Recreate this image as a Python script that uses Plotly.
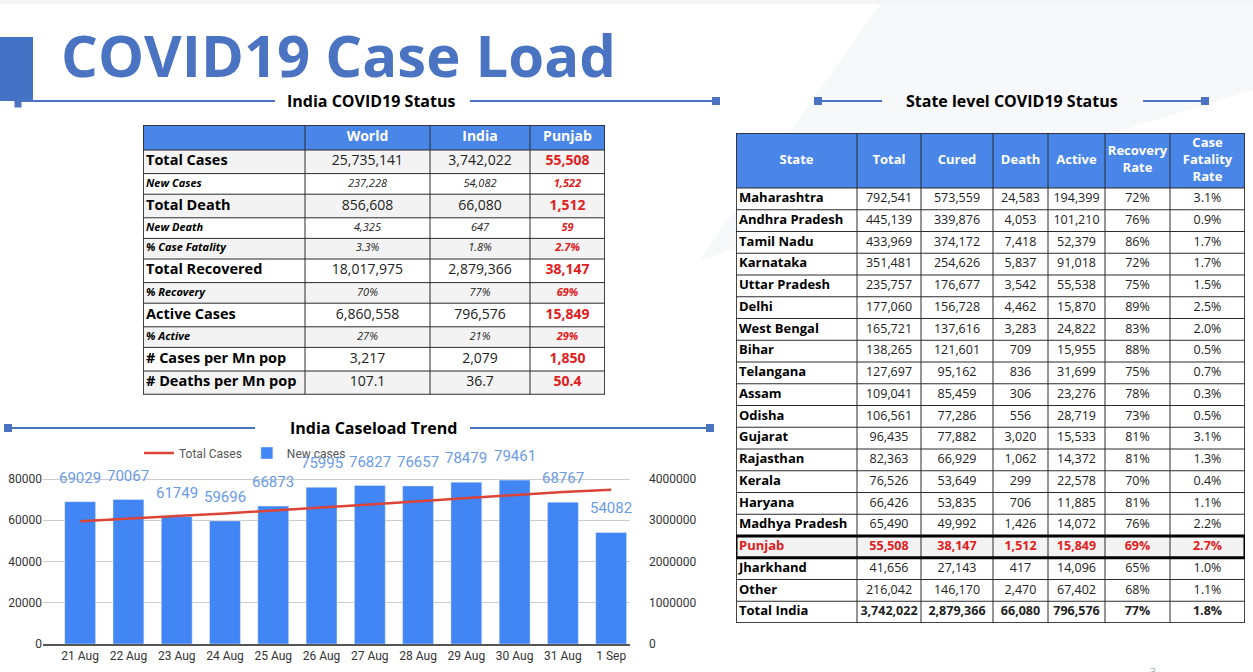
import plotly.graph_objects as go

W, H = 1253, 672


def px(x):
    return x / W


def py(y):
    return 1 - y / H


BLUE_HEAD = "#4a86e8"
TITLE_BLUE = "#4a73c2"
RED = "#e02020"
GRID = "#2b2b2b"

# ---- India / World / Punjab summary ----
metrics = ["Total Cases", "New Cases", "Total Death", "New Death", "% Case Fatality",
           "Total Recovered", "% Recovery", "Active Cases", "% Active",
           "# Cases per Mn pop", "# Deaths per Mn pop"]
minor_rows = [1, 3, 4, 6, 8]
world = [25735141, 237228, 856608, 4325, 3.3, 18017975, 70, 6860558, 27, 3217, 107.1]
india = [3742022, 54082, 66080, 647, 1.8, 2879366, 77, 796576, 21, 2079, 36.7]
punjab = [55508, 1522, 1512, 59, 2.7, 38147, 69, 15849, 29, 1850, 50.4]
row_fmt = ["{:,}", "{:,}", "{:,}", "{:,}", "{:.1f}%", "{:,}", "{:.0f}%", "{:,}", "{:.0f}%", "{:,}", "{:.1f}"]

# ---- state level table ----
states = ["Maharashtra", "Andhra Pradesh", "Tamil Nadu", "Karnataka", "Uttar Pradesh", "Delhi",
          "West Bengal", "Bihar", "Telangana", "Assam", "Odisha", "Gujarat", "Rajasthan", "Kerala",
          "Haryana", "Madhya Pradesh", "Punjab", "Jharkhand", "Other", "Total India"]
st_total = [792541, 445139, 433969, 351481, 235757, 177060, 165721, 138265, 127697, 109041, 106561,
            96435, 82363, 76526, 66426, 65490, 55508, 41656, 216042, 3742022]
st_cured = [573559, 339876, 374172, 254626, 176677, 156728, 137616, 121601, 95162, 85459, 77286,
            77882, 66929, 53649, 53835, 49992, 38147, 27143, 146170, 2879366]
st_death = [24583, 4053, 7418, 5837, 3542, 4462, 3283, 709, 836, 306, 556,
            3020, 1062, 299, 706, 1426, 1512, 417, 2470, 66080]
st_active = [194399, 101210, 52379, 91018, 55538, 15870, 24822, 15955, 31699, 23276, 28719,
             15533, 14372, 22578, 11885, 14072, 15849, 14096, 67402, 796576]
st_recovery = [72, 76, 86, 72, 75, 89, 83, 88, 75, 78, 73, 81, 81, 70, 81, 76, 69, 65, 68, 77]
st_cfr = [3.1, 0.9, 1.7, 1.7, 1.5, 2.5, 2.0, 0.5, 0.7, 0.3, 0.5, 3.1, 1.3, 0.4, 1.1, 2.2, 2.7, 1.0, 1.1, 1.8]

# ---- trend chart ----
dates = ["21 Aug", "22 Aug", "23 Aug", "24 Aug", "25 Aug", "26 Aug", "27 Aug", "28 Aug",
         "29 Aug", "30 Aug", "31 Aug", "1 Sep"]
new_cases = [69029, 70067, 61749, 59696, 66873, 75995, 76827, 76657, 78479, 79461, 68767, 54082]
total_cases = [2973369, 3043436, 3105185, 3164881, 3231754, 3307749, 3384576, 3461233,
               3539712, 3619173, 3687940, 3742022]

fig = go.Figure()
shapes = []

# faint slide background band
shapes.append(dict(type="path", xref="paper", yref="paper", layer="below", line_width=0,
                   fillcolor="#f7f8fa",
                   path=f"M {px(883)},{py(0)} L {px(1253)},{py(0)} L {px(1253)},{py(90)} "
                        f"L {px(700)},{py(260)} Z"))
shapes.append(dict(type="rect", xref="paper", yref="paper", layer="below", line_width=0,
                   fillcolor="#f4f5f7", x0=0, x1=1, y0=py(4), y1=1))


def table(ax, col_w, row_h, grid, fills, outer=1.5):
    """grid: rows of (text, size, color, align) ; drawn on axis pair ax (e.g. '3')"""
    xr, yr = "x" + ax, "y" + ax
    cx = [sum(col_w[:i]) for i in range(len(col_w) + 1)]
    ry = [sum(row_h[:i]) for i in range(len(row_h) + 1)]
    xs, ys, ts, sz, cl, pos = [], [], [], [], [], []
    for r, row in enumerate(grid):
        shapes.append(dict(type="rect", xref=xr, yref=yr, x0=cx[0], x1=cx[-1], y0=ry[r], y1=ry[r + 1],
                           fillcolor=fills[r], line_width=0, layer="below"))
        for c, (t, s, col, al) in enumerate(row):
            if al == "left":
                xs.append(cx[c] + 3)
                pos.append("middle right")
            else:
                xs.append((cx[c] + cx[c + 1]) / 2)
                pos.append("middle center")
            ys.append((ry[r] + ry[r + 1]) / 2)
            ts.append(t)
            sz.append(s)
            cl.append(col)
    for y in ry:
        shapes.append(dict(type="line", xref=xr, yref=yr, x0=cx[0], x1=cx[-1], y0=y, y1=y,
                           line=dict(color=GRID, width=1)))
    for x in cx:
        shapes.append(dict(type="line", xref=xr, yref=yr, x0=x, x1=x, y0=ry[0], y1=ry[-1],
                           line=dict(color=GRID, width=1)))
    shapes.append(dict(type="rect", xref=xr, yref=yr, x0=cx[0], x1=cx[-1], y0=ry[0], y1=ry[-1],
                       line=dict(color=GRID, width=outer)))
    fig.add_trace(go.Scatter(x=xs, y=ys, text=ts, mode="text", textposition=pos, xaxis=xr, yaxis=yr,
                             textfont=dict(family="Open Sans", size=sz, color=cl),
                             hoverinfo="skip", showlegend=False))
    return cx[-1], ry[-1]


# left table
L_LEFT, L_TOP = 143, 125
l_cols = [162, 125, 100, 75]
grid = [[("", 14, "white", "center")] + [(f"<b>{h}</b>", 14, "white", "center")
                                         for h in ("World", "India", "Punjab")]]
l_rows = [25]
for r, m in enumerate(metrics):
    vals = [row_fmt[r].format(v) for v in (world[r], india[r], punjab[r])]
    if r in minor_rows:
        grid.append([(f"<b><i>{m}</i></b>", 11, "black", "left"),
                     (f"<i>{vals[0]}</i>", 11, "#222", "center"),
                     (f"<i>{vals[1]}</i>", 11, "#222", "center"),
                     (f"<b><i>{vals[2]}</i></b>", 11, RED, "center")])
        l_rows.append(20.6)
    else:
        grid.append([(f"<b>{m}</b>", 14.5, "black", "left"),
                     (vals[0], 14, "#222", "center"),
                     (vals[1], 14, "#222", "center"),
                     (f"<b>{vals[2]}</b>", 14, RED, "center")])
        l_rows.append(23.6)
l_fill = [BLUE_HEAD] + ["#f3f3f3" if r % 2 == 0 else "white" for r in range(len(metrics))]
lw, lh = table("3", l_cols, l_rows, grid, l_fill)

# right table
R_LEFT, R_TOP = 736, 133
r_cols = [121, 64, 72, 55, 57, 65, 75]
pj = states.index("Punjab")
tot = states.index("Total India")
heads = ["State", "Total", "Cured", "Death", "Active", "Recovery<br>Rate", "Case<br>Fatality<br>Rate"]
grid = [[(f"<b>{h}</b>", 13, "white", "center") for h in heads]]
r_rows = [55]
for r, s in enumerate(states):
    cells = [f"{st_total[r]:,}", f"{st_cured[r]:,}", f"{st_death[r]:,}", f"{st_active[r]:,}",
             f"{st_recovery[r]}%", f"{st_cfr[r]:.1f}%"]
    col = RED if r == pj else "#222"
    if r in (pj, tot):
        cells = [f"<b>{c}</b>" for c in cells]
    grid.append([(f"<b>{s}</b>", 13, RED if r == pj else "black", "left")] +
                [(c, 12.5, col, "center") for c in cells])
    r_rows.append(21.75)
r_fill = [BLUE_HEAD] + ["#f3f3f3" if r == pj else "white" for r in range(len(states))]
rw, rh = table("4", r_cols, r_rows, grid, r_fill)
# Punjab row highlight
shapes.append(dict(type="rect", xref="x4", yref="y4", x0=0, x1=rw,
                   y0=sum(r_rows[:pj + 1]), y1=sum(r_rows[:pj + 2]),
                   line=dict(color="black", width=3)))

# trend chart
fig.add_trace(go.Scatter(x=dates, y=total_cases, name="Total Cases", mode="lines",
                         line=dict(color="#db4437", width=2.5), yaxis="y2"))
fig.add_trace(go.Bar(x=dates, y=new_cases, name="New cases", marker_color="#4285f4"))

for d, v in zip(dates, new_cases):
    fig.add_annotation(x=d, y=v, xref="x", yref="y", text=str(v), showarrow=False,
                       yshift=24, font=dict(family="Roboto", size=15, color="#6a9be6"))


def hline(x0, x1, y):
    shapes.append(dict(type="line", xref="paper", yref="paper", x0=px(x0), x1=px(x1),
                       y0=py(y), y1=py(y), line=dict(color="#4a73c2", width=2)))


def square(x, y, s=8):
    shapes.append(dict(type="rect", xref="paper", yref="paper", x0=px(x - s / 2), x1=px(x + s / 2),
                       y0=py(y + s / 2), y1=py(y - s / 2), fillcolor="#4a73c2", line_width=0))


# title block
shapes.append(dict(type="rect", xref="paper", yref="paper", x0=0, x1=px(33), y0=py(101), y1=py(37),
                   fillcolor="#4472c4", line_width=0))
hline(18, 275, 101)
square(18, 104, 7)
hline(470, 714, 101)
square(716, 101)
hline(820, 882, 101)
square(818, 101)
hline(1143, 1205, 101)
square(1205, 101)
hline(8, 255, 428)
square(8, 428)
hline(470, 710, 428)
square(710, 428)

texts = [
    dict(x=px(59), y=py(54), text="<b>COVID19 Case Load</b>", xanchor="left",
         font=dict(family="Open Sans", size=58, color=TITLE_BLUE)),
    dict(x=px(371), y=py(101), text="<b>India COVID19 Status</b>", xanchor="center",
         font=dict(family="Open Sans", size=16, color="black")),
    dict(x=px(1012), y=py(101), text="<b>State level COVID19 Status</b>", xanchor="center",
         font=dict(family="Open Sans", size=16, color="black")),
    dict(x=px(373), y=py(428), text="<b>India Caseload Trend</b>", xanchor="center",
         font=dict(family="Open Sans", size=16, color="black")),
    dict(x=px(1153), y=py(671), text="3", xanchor="center",
         font=dict(family="Open Sans", size=11, color="#aaaaaa")),
]
for t in texts:
    fig.add_annotation(xref="paper", yref="paper", showarrow=False, yanchor="middle", **t)

hidden = dict(visible=False, fixedrange=True, showgrid=False, zeroline=False, automargin=False)
fig.update_layout(
    width=W, height=H, margin=dict(l=0, r=0, t=0, b=0, autoexpand=False),
    paper_bgcolor="white", plot_bgcolor="rgba(0,0,0,0)",
    shapes=shapes, showlegend=True, bargap=0.36,
    font=dict(family="Roboto", size=12, color="#333"),
    legend=dict(orientation="h", x=px(139), y=py(453), xanchor="left", yanchor="middle",
                bgcolor="rgba(0,0,0,0)", font=dict(family="Roboto", size=12, color="#555"),
                itemwidth=30),
    xaxis=dict(domain=[px(43), px(630)], range=[-0.77, 11.39], showgrid=False, automargin=False,
               showline=True, linecolor="#555", linewidth=1.5, ticks="",
               tickfont=dict(family="Roboto", size=12, color="#333")),
    yaxis=dict(domain=[py(644), py(468.7)], range=[0, 85000], tickvals=[0, 20000, 40000, 60000, 80000],
               tickformat="d", gridcolor="#cccccc", zeroline=False, ticks="", automargin=False,
               tickfont=dict(family="Roboto", size=12, color="#333")),
    yaxis2=dict(overlaying="y", side="right", range=[0, 4250000], automargin=False,
                tickvals=[0, 1000000, 2000000, 3000000, 4000000], tickformat="d",
                showgrid=False, zeroline=False, ticks="", ticklabelstandoff=18,
                tickfont=dict(family="Roboto", size=12, color="#333")),
    xaxis3=dict(domain=[px(L_LEFT), px(L_LEFT + lw)], range=[0, lw], anchor="y3", **hidden),
    yaxis3=dict(domain=[py(L_TOP + lh), py(L_TOP)], range=[lh, 0], anchor="x3", **hidden),
    xaxis4=dict(domain=[px(R_LEFT), px(R_LEFT + rw)], range=[0, rw], anchor="y4", **hidden),
    yaxis4=dict(domain=[py(R_TOP + rh), py(R_TOP)], range=[rh, 0], anchor="x4", **hidden),
)

fig.write_html("out.html", config={"displayModeBar": False},
               post_script="document.body.style.margin='0px';")
